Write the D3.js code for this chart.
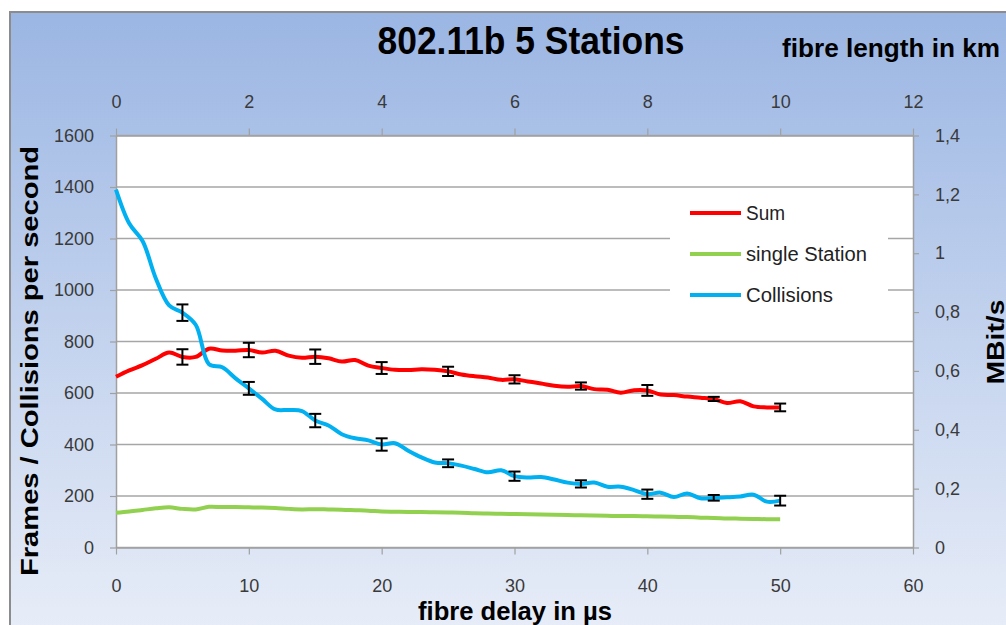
<!DOCTYPE html>
<html>
<head>
<meta charset="utf-8">
<script src="https://cdn.jsdelivr.net/npm/d3@7"></script>
<style>
  body { margin: 0; background: #fff; }
  text { font-family: "Liberation Sans", Arial, sans-serif; }
</style>
</head>
<body>
<script>
// values
const delay = [0,1,2,3,4,5,6,7,8,9,10,11,12,13,14,15,16,17,18,19,20,21,22,23,24,25,
               26,27,28,29,30,31,32,33,34,35,36,37,38,39,40,41,42,43,44,45,46,47,48,49,50];
const sum = [663,688,708,733,757,740,740,772,765,764,767,757,764,745,737,741,735,722,728,706,
             697,690,689,692,690,684,672,665,660,651,653,645,637,628,624,627,615,613,601,611,
             610,594,592,586,582,577,561,568,548,544,544];
const singleStation = [135,140,146,152,156,150,148,158,157,157,156,155,153,150,148,149,148,147,145,143,
                       140,139,138,138,137,136,135,133,132,131,130,129,128,127,126,125,124,123,122,122,
                       121,120,119,118,116,115,113,112,111,110,110];
const collisions = [1390,1258,1190,1045,940,912,865,712,700,657,618,577,536,534,530,493,474,440,424,416,
                    400,405,376,350,330,327,318,305,292,300,277,272,274,264,252,247,252,236,236,223,
                    207,213,196,210,191,193,195,198,205,178,182];

const errDelay = [5,10,15,20,25,30,35,40,45,50];
const sumErr = [30,28,28,23,18,16,14,21,8,15];
const collisionsErr = [32,25,26,24,15,18,14,18,11,19];

const leftTicks = [0,200,400,600,800,1000,1200,1400,1600];
const rightTicks = [0,0.2,0.4,0.6,0.8,1,1.2,1.4];
const bottomTicks = [0,10,20,30,40,50,60];
const topTicks = [0,2,4,6,8,10,12];

const seriesNames = ['Sum', 'single Station', 'Collisions'];
const seriesColors = ['#ff0000', '#92d050', '#00b0f0'];

const plot = { left: 116, right: 913, top: 135.5, bottom: 547.5 };

const x = d3.scaleLinear().domain([0, 60]).range([plot.left, plot.right]);
const xTop = d3.scaleLinear().domain([0, 12]).range([plot.left, plot.right]);
const y = d3.scaleLinear().domain([0, 1600]).range([plot.bottom, plot.top]);
const yRight = d3.scaleLinear().domain([0, 1.4]).range([plot.bottom, plot.top]);

var svg = d3.select("body")
            .append("svg")
            .attr("width", 1006)
            .attr("height", 625);

const grad = svg.append('defs')
   .append('linearGradient')
   .attr('id', 'bg')
   .attr('x1', 0).attr('y1', 0).attr('x2', 0).attr('y2', 1);
grad.append('stop').attr('offset', '0%').attr('stop-color', '#9bb6e3');
grad.append('stop').attr('offset', '100%').attr('stop-color', '#e9eef8');

svg.append('rect')
   .attr('x', 10).attr('y', 12)
   .attr('width', 1010).attr('height', 630)
   .attr('fill', 'url(#bg)')
   .attr('stroke', '#8c8c8c')
   .attr('stroke-width', 2);

svg.append('rect')
   .attr('x', plot.left).attr('y', plot.top)
   .attr('width', plot.right - plot.left)
   .attr('height', plot.bottom - plot.top)
   .attr('fill', '#fff');

// gridlines
svg.selectAll('line.grid')
   .data(leftTicks)
   .enter()
   .append('line')
   .attr('class', 'grid')
   .attr('x1', plot.left)
   .attr('x2', plot.right)
   .attr('y1', (d) => y(d))
   .attr('y2', (d) => y(d))
   .attr('stroke', '#a6a6a6')
   .attr('stroke-width', 1.5);

function styleAxis(g) {
  g.select('.domain').attr('stroke', '#a0a0a0').attr('stroke-width', 1.5);
  g.selectAll('.tick line').attr('stroke', '#a0a0a0').attr('stroke-width', 1.2);
  g.selectAll('.tick text')
   .attr('font-size', '18px')
   .attr('fill', '#3a3a3a')
   .style('font-family', '"Liberation Sans", Arial, sans-serif');
}

svg.append('g')
   .attr('transform', `translate(${plot.left},0)`)
   .call(d3.axisLeft(y).tickValues(leftTicks).tickSize(6).tickSizeOuter(0).tickPadding(16)
           .tickFormat((d) => String(d)))
   .call(styleAxis);

svg.append('g')
   .attr('transform', `translate(${plot.right},0)`)
   .call(d3.axisRight(yRight).tickValues(rightTicks).tickSize(6).tickSizeOuter(0).tickPadding(16)
           .tickFormat((d) => String(d).replace('.', ',')))
   .call(styleAxis);

svg.append('g')
   .attr('transform', `translate(0,${plot.bottom})`)
   .call(d3.axisBottom(x).tickValues(bottomTicks).tickSize(7).tickSizeOuter(0).tickPadding(25))
   .call(styleAxis);

svg.append('g')
   .attr('transform', `translate(0,${plot.top})`)
   .call(d3.axisTop(xTop).tickValues(topTicks).tickSize(7).tickSizeOuter(0).tickPadding(21))
   .call(styleAxis);

// series lines
const line = d3.line()
               .x((d, i) => x(delay[i]))
               .y((d) => y(d))
               .curve(d3.curveCatmullRom.alpha(0.5));

svg.selectAll('path.series')
   .data([sum, singleStation, collisions])
   .enter()
   .append('path')
   .attr('class', 'series')
   .attr('d', line)
   .attr('fill', 'none')
   .attr('stroke', (d, i) => seriesColors[i])
   .attr('stroke-width', 4)
   .attr('stroke-linejoin', 'round');

// error bars
const errBars = [];
errDelay.forEach((t, i) => {
  const k = delay.indexOf(t);
  errBars.push({ t: t, v: sum[k], e: sumErr[i] });
  errBars.push({ t: t, v: collisions[k], e: collisionsErr[i] });
});

const eb = svg.selectAll('g.err')
   .data(errBars)
   .enter()
   .append('g')
   .attr('class', 'err')
   .attr('stroke', '#000')
   .attr('stroke-width', 2);

eb.append('line')
  .attr('x1', (d) => x(d.t)).attr('x2', (d) => x(d.t))
  .attr('y1', (d) => y(d.v - d.e)).attr('y2', (d) => y(d.v + d.e));
eb.append('line')
  .attr('x1', (d) => x(d.t) - 6).attr('x2', (d) => x(d.t) + 6)
  .attr('y1', (d) => y(d.v + d.e)).attr('y2', (d) => y(d.v + d.e));
eb.append('line')
  .attr('x1', (d) => x(d.t) - 6).attr('x2', (d) => x(d.t) + 6)
  .attr('y1', (d) => y(d.v - d.e)).attr('y2', (d) => y(d.v - d.e));

// legend
svg.append('rect')
   .attr('x', 670).attr('y', 195)
   .attr('width', 218).attr('height', 124)
   .attr('fill', '#fff');

svg.selectAll('line.legend')
   .data(seriesNames)
   .enter()
   .append('line')
   .attr('class', 'legend')
   .attr('x1', 690).attr('x2', 741)
   .attr('y1', (d, i) => 213 + 41 * i)
   .attr('y2', (d, i) => 213 + 41 * i)
   .attr('stroke', (d, i) => seriesColors[i])
   .attr('stroke-width', 4);

svg.selectAll('text.legend')
   .data(seriesNames)
   .enter()
   .append('text')
   .attr('class', 'legend')
   .attr('x', 746)
   .attr('y', (d, i) => 220 + 41 * i)
   .attr('font-size', '20px')
   .attr('fill', '#222')
   .attr('textLength', (d, i) => [39, 121, 87][i])
   .attr('lengthAdjust', 'spacingAndGlyphs')
   .text((d) => d);

// titles
svg.append('text')
   .attr('x', 531).attr('y', 54)
   .attr('text-anchor', 'middle')
   .attr('font-size', '38px')
   .attr('font-weight', 'bold')
   .attr('textLength', 307)
   .attr('lengthAdjust', 'spacingAndGlyphs')
   .text('802.11b 5 Stations');

svg.append('text')
   .attr('x', 891).attr('y', 57)
   .attr('text-anchor', 'middle')
   .attr('font-size', '26px')
   .attr('font-weight', 'bold')
   .attr('textLength', 218)
   .attr('lengthAdjust', 'spacingAndGlyphs')
   .text('fibre length in km');

svg.append('text')
   .attr('x', 515).attr('y', 620)
   .attr('text-anchor', 'middle')
   .attr('font-size', '26px')
   .attr('font-weight', 'bold')
   .attr('textLength', 194)
   .attr('lengthAdjust', 'spacingAndGlyphs')
   .text('fibre delay in µs');

svg.append('text')
   .attr('transform', 'translate(38,361) rotate(-90)')
   .attr('text-anchor', 'middle')
   .attr('font-size', '24px')
   .attr('font-weight', 'bold')
   .attr('textLength', 430)
   .attr('lengthAdjust', 'spacingAndGlyphs')
   .text('Frames / Collisions per second');

svg.append('text')
   .attr('transform', 'translate(1004,342) rotate(-90)')
   .attr('text-anchor', 'middle')
   .attr('font-size', '24px')
   .attr('font-weight', 'bold')
   .attr('textLength', 85)
   .attr('lengthAdjust', 'spacingAndGlyphs')
   .text('MBit/s');
</script>
</body>
</html>
